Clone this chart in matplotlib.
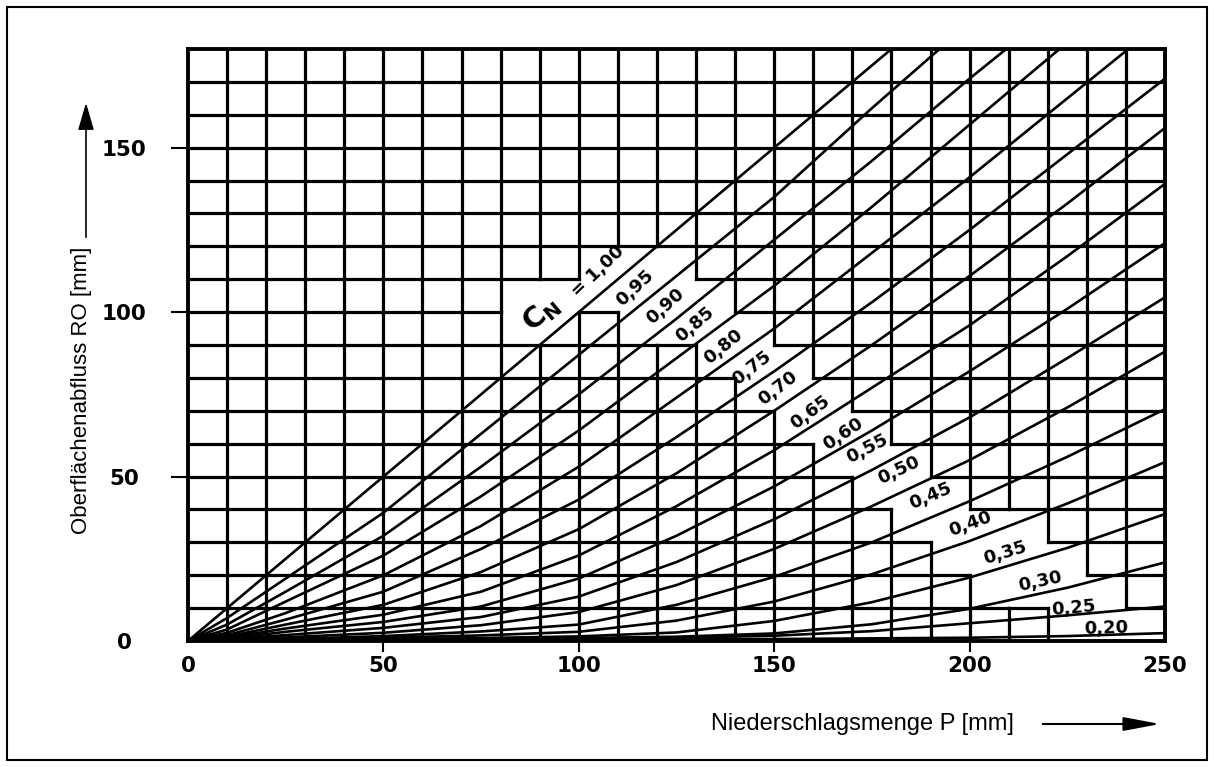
import numpy as np
import matplotlib
matplotlib.use('Agg')
import matplotlib.pyplot as plt
from matplotlib.collections import LineCollection
from matplotlib.patches import Rectangle, FancyArrowPatch

P = [0, 10, 25, 50, 75, 100, 125, 150, 175, 200, 225, 250]

# Oberflaechenabfluss RO [mm] per C_N curve
ro_100 = [0, 10, 25, 50, 75, 100, 125, 150, 175, 200, 225, 250]
ro_095 = [0, 7, 19, 39, 63, 87, 111, 135, 162, 188, 213, 238]
ro_090 = [0, 5, 15, 32, 53, 75, 98, 122, 146, 171, 195, 219]
ro_085 = [0, 3.5, 12, 26, 44, 64, 86, 108, 132, 157, 182, 206]
ro_080 = [0, 2.5, 8.5, 20, 35, 53, 74, 95, 118, 141, 165, 189]
ro_075 = [0, 1.8, 6.5, 15, 28, 43, 62, 82, 103, 125, 148, 171]
ro_070 = [0, 1.3, 5, 11, 21, 34, 51, 70, 90, 111, 133, 156]
ro_065 = [0, 1.0, 3.8, 8, 15, 26, 41, 58, 77, 96, 117, 139]
ro_060 = [0, 0.7, 2.8, 5.8, 10.5, 19, 32, 47, 64, 82, 101, 121]
ro_055 = [0, 0.45, 1.8, 4, 7.3, 13.5, 24, 37, 52, 68, 86, 104.5]
ro_050 = [0, 0.25, 1.1, 2.5, 4.8, 8.8, 17, 28, 41, 55, 71, 88]
ro_045 = [0, 0.15, 0.6, 1.5, 2.9, 5, 11, 19.5, 30, 42.5, 56, 70.5]
ro_040 = [0, 0.1, 0.4, 1.0, 1.7, 2.8, 6.2, 12, 20.3, 30.4, 41.8, 54.4]
ro_035 = [0, 0.07, 0.25, 0.55, 0.9, 1.4, 2.6, 6.1, 11.8, 19.3, 28.3, 38.6]
ro_030 = [0, 0.05, 0.15, 0.35, 0.6, 0.9, 1.3, 2.3, 5.1, 9.8, 16.2, 23.9]
ro_025 = [0, 0.03, 0.1, 0.25, 0.45, 0.7, 1.0, 1.6, 3.0, 5.4, 7.8, 10.5]
ro_020 = [0, 0.02, 0.05, 0.12, 0.2, 0.3, 0.45, 0.6, 0.8, 1.0, 1.5, 2.4]

cn_labels = ['1,00', '0,95', '0,90', '0,85', '0,80', '0,75', '0,70', '0,65', '0,60',
             '0,55', '0,50', '0,45', '0,40', '0,35', '0,30', '0,25', '0,20']
curves = [ro_100, ro_095, ro_090, ro_085, ro_080, ro_075, ro_070, ro_065, ro_060,
          ro_055, ro_050, ro_045, ro_040, ro_035, ro_030, ro_025, ro_020]

# where the curve labels sit (P, RO)
label_p = [105, 114.4, 122.1, 129.8, 137, 144.3, 151, 159.2, 167.7,
           173.7, 181.8, 190, 200.2, 209, 218, 226.7, 234.8]
label_ro = [112.5, 107.3, 101.7, 96.1, 89.6, 82.9, 76.8, 69.6, 63,
            58.4, 51.8, 44, 35.5, 26.8, 18.1, 10, 3.9]

# grid cells blanked out behind the labels: column start, lowest and highest row
cut_cols = [80, 90, 100, 110, 120, 130, 140, 150, 160, 170, 180, 190, 200, 210, 220, 230, 240]
cut_lo = [90, 90, 100, 90, 90, 80, 70, 60, 50, 40, 30, 20, 10, 10, 0, 0, 0]
cut_hi = [110, 110, 120, 120, 120, 110, 100, 90, 80, 70, 60, 50, 40, 40, 30, 20, 10]

W, H = 1214, 767
fig = plt.figure(figsize=(W / 100, H / 100), dpi=100)
fig.patch.set_facecolor('white')
fig.add_artist(Rectangle((7 / W, 7 / H), 1 - 14 / W, 1 - 14 / H, transform=fig.transFigure,
                         fill=False, edgecolor='black', lw=1.5))

ax = fig.add_axes([188 / W, 1 - 641 / H, 977 / W, 592 / H])
ax.set_xlim(0, 250)
ax.set_ylim(0, 180)

white = set()
for c, lo, hi in zip(cut_cols, cut_lo, cut_hi):
    for r in range(lo, hi, 10):
        white.add((c, r))

segs = []
for x in range(10, 250, 10):
    for r in range(0, 180, 10):
        if (x - 10, r) in white and (x, r) in white:
            continue
        segs.append([(x, r), (x, r + 10)])
for y in range(10, 180, 10):
    for c in range(0, 250, 10):
        if (c, y - 10) in white and (c, y) in white:
            continue
        segs.append([(c, y), (c + 10, y)])
ax.add_collection(LineCollection(segs, colors='black', linewidths=2.3, capstyle='projecting', zorder=1))

for ro in curves:
    ax.plot(P, ro, color='black', lw=1.9, zorder=2, solid_capstyle='round')

for s in ax.spines.values():
    s.set_linewidth(2.8)

def angle_at(p, ro):
    x0, x1 = p - 4, p + 4
    a = ax.transData.transform([(x0, np.interp(x0, P, ro)), (x1, np.interp(x1, P, ro))])
    return np.degrees(np.arctan2(a[1, 1] - a[0, 1], a[1, 0] - a[0, 0]))

for i, (lab, p, y) in enumerate(zip(cn_labels, label_p, label_ro)):
    rot = angle_at(p, curves[i]) + (4 if i < 9 else 0)
    txt = lab if i > 0 else '= ' + lab
    ax.text(p, y, txt, rotation=rot, rotation_mode='anchor', ha='center', va='center',
            fontsize=13, fontweight='bold', zorder=3)
ax.text(90.5, 99.5, r'$\mathbf{C_N}$', rotation=angle_at(90, ro_100), rotation_mode='anchor',
        ha='center', va='center', fontsize=21, zorder=3)

ax.set_xticks([0, 50, 100, 150, 200, 250])
ax.set_yticks([0, 50, 100, 150])
ax.tick_params(axis='x', direction='out', length=8, width=1.5, pad=3, labelsize=15.5)
ax.tick_params(axis='y', direction='out', length=12, width=1.5, pad=34, labelsize=15.5)
for t in ax.get_xticklabels() + ax.get_yticklabels():
    t.set_fontweight('bold')
for t in ax.get_yticklabels():
    t.set_horizontalalignment('center')
xt = ax.xaxis.get_major_ticks()
xt[0].tick1line.set_visible(False)
xt[-1].tick1line.set_visible(False)
ax.yaxis.get_major_ticks()[0].tick1line.set_visible(False)

fig.text(862 / W, 1 - 724 / H, 'Niederschlagsmenge P [mm]', ha='center', va='center',
         fontsize=17, family='Liberation Sans')
fig.text(82 / W, 1 - 390 / H, 'Oberflächenabfluss RO [mm]', ha='center', va='center',
         rotation=90, fontsize=16, family='Liberation Sans')

fig.add_artist(FancyArrowPatch(
    (1040 / W, 1 - 724 / H), (1163 / W, 1 - 724 / H), transform=fig.transFigure,
    arrowstyle='-|>,head_length=1.6,head_width=0.3', mutation_scale=14, color='black', lw=1.5))
fig.add_artist(FancyArrowPatch(
    (86 / W, 1 - 240 / H), (86 / W, 1 - 100 / H), transform=fig.transFigure,
    arrowstyle='-|>,head_length=1.2,head_width=0.35', mutation_scale=14, color='black', lw=1.2))

fig.savefig('out.png', dpi=100)
